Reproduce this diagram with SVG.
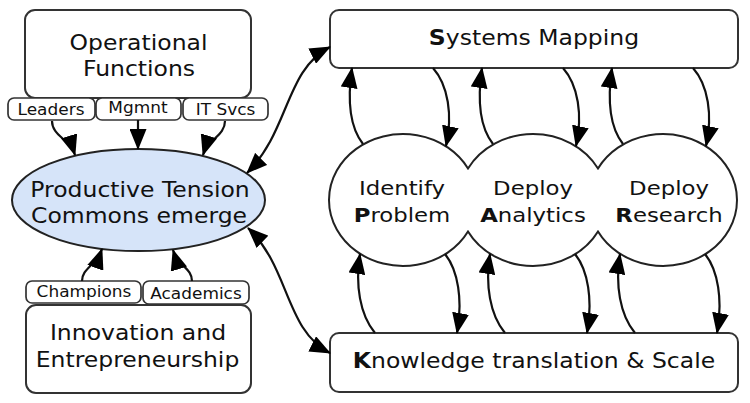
<svg xmlns="http://www.w3.org/2000/svg" width="750" height="403" viewBox="0 0 750 403">
<style>
.box{fill:#fff;stroke:#333;stroke-width:2}
.sbox{fill:#fff;stroke:#333;stroke-width:1.7}
.ell{fill:#d6e4f9;stroke:#222;stroke-width:2}
.blob{fill:#fff;stroke:#222;stroke-width:2}
text{font-family:"DejaVu Sans",Verdana,sans-serif;fill:#111;text-anchor:middle}
.big{font-size:21px}
.mid{font-size:20px}
.sm{font-size:15px}
.b{font-weight:bold}
.c{fill:none;stroke:#111;stroke-width:2.2}
.e{marker-end:url(#ah)}
.d{marker-start:url(#ah);marker-end:url(#ah)}
</style>
<defs>
<marker id="ah" markerWidth="21" markerHeight="17" refX="20" refY="8.5" orient="auto-start-reverse" markerUnits="userSpaceOnUse">
<path d="M0,0 L21,8.5 L0,17 z" fill="#000"/>
</marker>
</defs>

<g id="operational">
<rect class="box" x="25" y="10" width="226" height="88" rx="10"/>
<text class="big" transform="translate(138.5,50) scale(1.12,1)">Operational</text>
<text class="big" transform="translate(139,76) scale(1.12,1)">Functions</text>
</g>
<g id="leaders">
<rect class="sbox" x="8" y="98" width="87" height="22" rx="6"/>
<text class="sm" transform="translate(51,115) scale(1.13,1)">Leaders</text>
</g>
<g id="mgmnt">
<rect class="sbox" x="96" y="98" width="85" height="22" rx="6"/>
<text class="sm" transform="translate(138,113) scale(1.13,1)">Mgmnt</text>
</g>
<g id="itsvcs">
<rect class="sbox" x="183" y="98" width="85" height="22" rx="6"/>
<text class="sm" transform="translate(225.5,115) scale(1.13,1)">IT Svcs</text>
</g>

<g id="tension">
<ellipse class="ell" cx="138.5" cy="200" rx="126.5" ry="51"/>
<text class="big" transform="translate(140,197) scale(1.12,1)">Productive Tension</text>
<text class="big" transform="translate(139,223) scale(1.12,1)">Commons emerge</text>
</g>

<g id="champions">
<rect class="sbox" x="26" y="281" width="115" height="22" rx="6"/>
<text class="sm" transform="translate(84,297) scale(1.13,1)">Champions</text>
</g>
<g id="academics">
<rect class="sbox" x="143" y="281" width="106" height="23" rx="6"/>
<text class="sm" transform="translate(196,299) scale(1.13,1)">Academics</text>
</g>
<g id="innovation">
<rect class="box" x="26" y="305" width="225" height="88" rx="10"/>
<text class="big" transform="translate(138,340) scale(1.12,1)">Innovation and</text>
<text class="big" transform="translate(137.5,367) scale(1.12,1)">Entrepreneurship</text>
</g>

<g id="systems">
<rect class="box" x="330" y="10" width="408" height="58" rx="9"/>
<text class="big" transform="translate(534,45) scale(1.12,1)"><tspan class="b">S</tspan>ystems Mapping</text>
</g>
<g id="knowledge">
<rect class="box" x="330" y="333" width="408" height="59" rx="9"/>
<text class="big" transform="translate(534,368) scale(1.12,1)"><tspan class="b">K</tspan>nowledge translation &amp; Scale</text>
</g>

<g id="cycle">
<path class="blob" d="M468,168.45 A74,66 0 1 0 468,231.55 A74,66 0 0 0 598,231.55 A74,66 0 1 0 598,168.45 A74,66 0 0 0 468,168.45 Z"/>
</g>
<g id="identify">
<text class="mid" transform="translate(402,195) scale(1.14,1)">Identify</text>
<text class="mid" transform="translate(402,222) scale(1.14,1)"><tspan class="b">P</tspan>roblem</text>
</g>
<g id="analytics">
<text class="mid" transform="translate(533,195) scale(1.14,1)">Deploy</text>
<text class="mid" transform="translate(533,222) scale(1.14,1)"><tspan class="b">A</tspan>nalytics</text>
</g>
<g id="research">
<text class="mid" transform="translate(669,195) scale(1.14,1)">Deploy</text>
<text class="mid" transform="translate(669,222) scale(1.14,1)"><tspan class="b">R</tspan>esearch</text>
</g>

<g id="connectors">
<path class="c e" d="M52,121 C52,136 70,139 75,155"/>
<path class="c e" d="M138,120 L138,149"/>
<path class="c e" d="M225,121 C225,136 208,139 203,155"/>
<path class="c e" d="M82,281 C82,268 96,266 102,249"/>
<path class="c e" d="M192,281 C192,268 178,266 173,250"/>
<path class="c d" d="M247,173 C290,130 285,70 330,47"/>
<path class="c d" d="M248,228 C290,268 285,330 330,353"/>

<path class="c e" d="M363,144 C348,125 348,95 352,68"/>
<path class="c e" d="M433,68 C448,85 453,115 446,146"/>
<path class="c e" d="M375,333 C360,315 355,285 360,254"/>
<path class="c e" d="M445,254 C458,270 463,300 457,333"/>

<path class="c e" d="M493,144 C478,125 478,95 482,68"/>
<path class="c e" d="M563,68 C578,85 583,115 576,146"/>
<path class="c e" d="M505,333 C490,315 485,285 490,254"/>
<path class="c e" d="M575,254 C588,270 593,300 587,333"/>

<path class="c e" d="M623,144 C608,125 608,95 612,68"/>
<path class="c e" d="M693,68 C708,85 713,115 706,146"/>
<path class="c e" d="M635,333 C620,315 615,285 620,254"/>
<path class="c e" d="M705,254 C718,270 723,300 717,333"/>
</g>
</svg>
